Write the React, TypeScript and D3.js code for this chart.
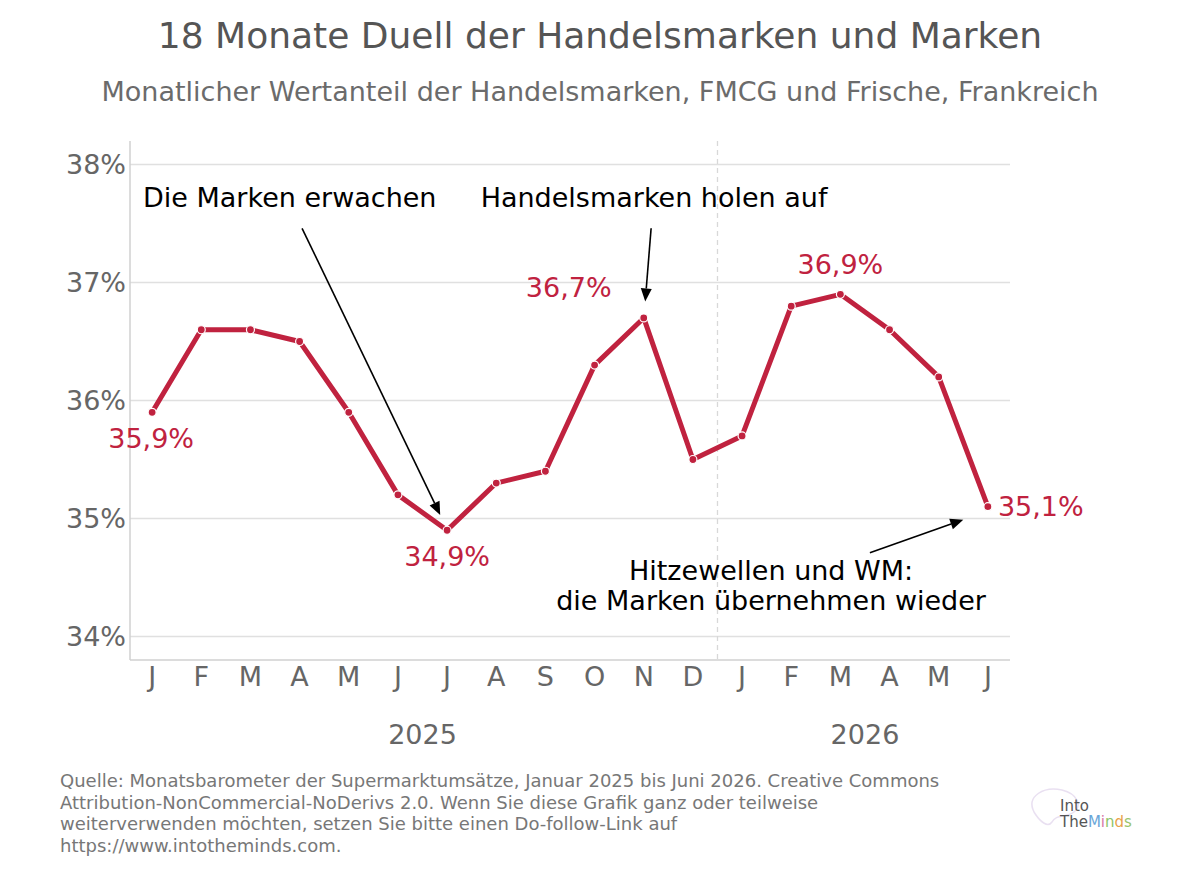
import * as d3 from "d3";

const months: string[] = ["J", "F", "M", "A", "M", "J", "J", "A", "S", "O", "N", "D", "J", "F", "M", "A", "M", "J"];
const shares: number[] = [35.9, 36.6, 36.6, 36.5, 35.9, 35.2, 34.9, 35.3, 35.4, 36.3, 36.7, 35.5, 35.7, 36.8, 36.9, 36.6, 36.2, 35.1];
const years: string[] = ["2025", "2026"];
const yearSpans: [number, number][] = [[0, 11], [12, 17]];
const yTicks: number[] = [34, 35, 36, 37, 38];
const labelled: number[] = [0, 6, 10, 14, 17];

// annotation texts with anchor (month index, share) and arrow in data units
const notes = [
  { lines: ["Die Marken erwachen"], at: [2.8, 37.64], from: [3.05, 37.46], to: [5.86, 35.03] },
  { lines: ["Handelsmarken holen auf"], at: [10.21, 37.64], from: [10.15, 37.46], to: [10.03, 36.84] },
  { lines: ["Hitzewellen und WM:", "die Marken übernehmen wieder"], at: [12.59, 34.48], from: [14.6, 34.71], to: [16.5, 34.99] },
];

const W = 1200;
const H = 874;
const red = "#c0223f";
const font = "DejaVu Sans, sans-serif";

const x = d3.scaleLinear().domain([-0.45, 17.45]).range([130, 1010]);
const y = d3.scaleLinear().domain([33.8, 38.2]).range([660, 141]);

const fmt = (v: number) => d3.format(".1f")(v).replace(".", ",") + "%";

const labelOffsets: Record<number, { dx: number; dy: number; anchor: string }> = {
  0: { dx: -1, dy: 36, anchor: "middle" },
  6: { dx: 0, dy: 36, anchor: "middle" },
  10: { dx: -75, dy: -21, anchor: "middle" },
  14: { dx: 0, dy: -20, anchor: "middle" },
  17: { dx: 10, dy: 9, anchor: "start" },
};

const footer = [
  "Quelle: Monatsbarometer der Supermarktumsätze, Januar 2025 bis Juni 2026. Creative Commons",
  "Attribution-NonCommercial-NoDerivs 2.0. Wenn Sie diese Grafik ganz oder teilweise",
  "weiterverwenden möchten, setzen Sie bitte einen Do-follow-Link auf",
  "https://www.intotheminds.com.",
];

const logoLetters = [
  { t: "The", c: "#555" },
  { t: "M", c: "#6aa6d8" },
  { t: "i", c: "#d87aa8" },
  { t: "n", c: "#8cc46a" },
  { t: "d", c: "#e8a24a" },
  { t: "s", c: "#9ac46a" },
];

export default function App() {
  const line = d3
    .line<number>()
    .x((_, i) => x(i))
    .y((d) => y(d));

  const arrow = (n: (typeof notes)[number]) => {
    const [x1, y1] = [x(n.from[0]), y(n.from[1])];
    const [x2, y2] = [x(n.to[0]), y(n.to[1])];
    const ang = Math.atan2(y2 - y1, x2 - x1);
    const len = 13;
    const half = 5.5;
    const bx = x2 - len * Math.cos(ang);
    const by = y2 - len * Math.sin(ang);
    const px = -Math.sin(ang) * half;
    const py = Math.cos(ang) * half;
    return (
      <g>
        <line x1={x1} y1={y1} x2={bx} y2={by} stroke="#000" strokeWidth={1.6} />
        <path d={`M${x2},${y2}L${bx + px},${by + py}L${bx - px},${by - py}Z`} fill="#000" />
      </g>
    );
  };

  const sepX = (x(11) + x(12)) / 2;

  return (
    <svg width={W} height={H} style={{ position: "absolute", left: 0, top: 0, background: "#fff" }} fontFamily={font}>
      <text x={600} y={48} textAnchor="middle" fontSize={36} fill="#555">
        18 Monate Duell der Handelsmarken und Marken
      </text>
      <text x={600} y={101} textAnchor="middle" fontSize={27} fill="#6b6b6b">
        Monatlicher Wertanteil der Handelsmarken, FMCG und Frische, Frankreich
      </text>

      {yTicks.map((t) => (
        <g key={t}>
          <line x1={x.range()[0]} x2={x.range()[1]} y1={y(t)} y2={y(t)} stroke="#e0e0e0" strokeWidth={1.5} />
          <text x={126} y={y(t)} dy="0.36em" textAnchor="end" fontSize={27} fill="#666">
            {t}%
          </text>
        </g>
      ))}

      <line x1={sepX} x2={sepX} y1={y.range()[1]} y2={y.range()[0]} stroke="#d8d8d8" strokeWidth={1.3} strokeDasharray="5,4" />

      <line x1={x.range()[0]} x2={x.range()[0]} y1={y.range()[1]} y2={y.range()[0]} stroke="#d0d0d0" strokeWidth={1.5} />
      <line x1={x.range()[0]} x2={x.range()[1]} y1={y.range()[0]} y2={y.range()[0]} stroke="#d0d0d0" strokeWidth={1.5} />

      {months.map((m, i) => (
        <text key={i} x={x(i)} y={686} textAnchor="middle" fontSize={27} fill="#666">
          {m}
        </text>
      ))}
      {years.map((yr, i) => (
        <text key={yr} x={(x(yearSpans[i][0]) + x(yearSpans[i][1])) / 2} y={744} textAnchor="middle" fontSize={27} fill="#666">
          {yr}
        </text>
      ))}

      <path d={line(shares) ?? ""} fill="none" stroke={red} strokeWidth={5} strokeLinejoin="round" />
      {shares.map((v, i) => (
        <circle key={i} cx={x(i)} cy={y(v)} r={4} fill={red} stroke="#fff" strokeWidth={1.2} />
      ))}

      {labelled.map((i) => {
        const o = labelOffsets[i];
        return (
          <text key={i} x={x(i) + o.dx} y={y(shares[i]) + o.dy} textAnchor={o.anchor} fontSize={27} fill={red}>
            {fmt(shares[i])}
          </text>
        );
      })}

      {notes.map((n, k) => (
        <g key={k}>
          {arrow(n)}
          <text x={x(n.at[0])} y={y(n.at[1])} textAnchor="middle" fontSize={27} fill="#000">
            {n.lines.map((l, j) => (
              <tspan key={j} x={x(n.at[0])} dy={j === 0 ? 0 : 30}>
                {l}
              </tspan>
            ))}
          </text>
        </g>
      ))}

      {footer.map((l, i) => (
        <text key={i} x={60} y={787 + i * 21.5} fontSize={18} fill="#777">
          {l}
        </text>
      ))}

      <g>
        <path
          d="M1034,812 C1026,796 1044,786 1062,790 C1078,794 1082,806 1074,812 C1066,818 1056,814 1052,822 C1048,828 1040,822 1034,812 Z"
          fill="none"
          stroke="#e4d8ee"
          strokeWidth={1.5}
          opacity={0.8}
        />
        <text x={1060} y={811} fontSize={15} fill="#555">
          Into
        </text>
        <text x={1060} y={827} fontSize={15} fill="#555">
          {logoLetters.map((s, i) => (
            <tspan key={i} fill={s.c}>
              {s.t}
            </tspan>
          ))}
        </text>
      </g>
    </svg>
  );
}
